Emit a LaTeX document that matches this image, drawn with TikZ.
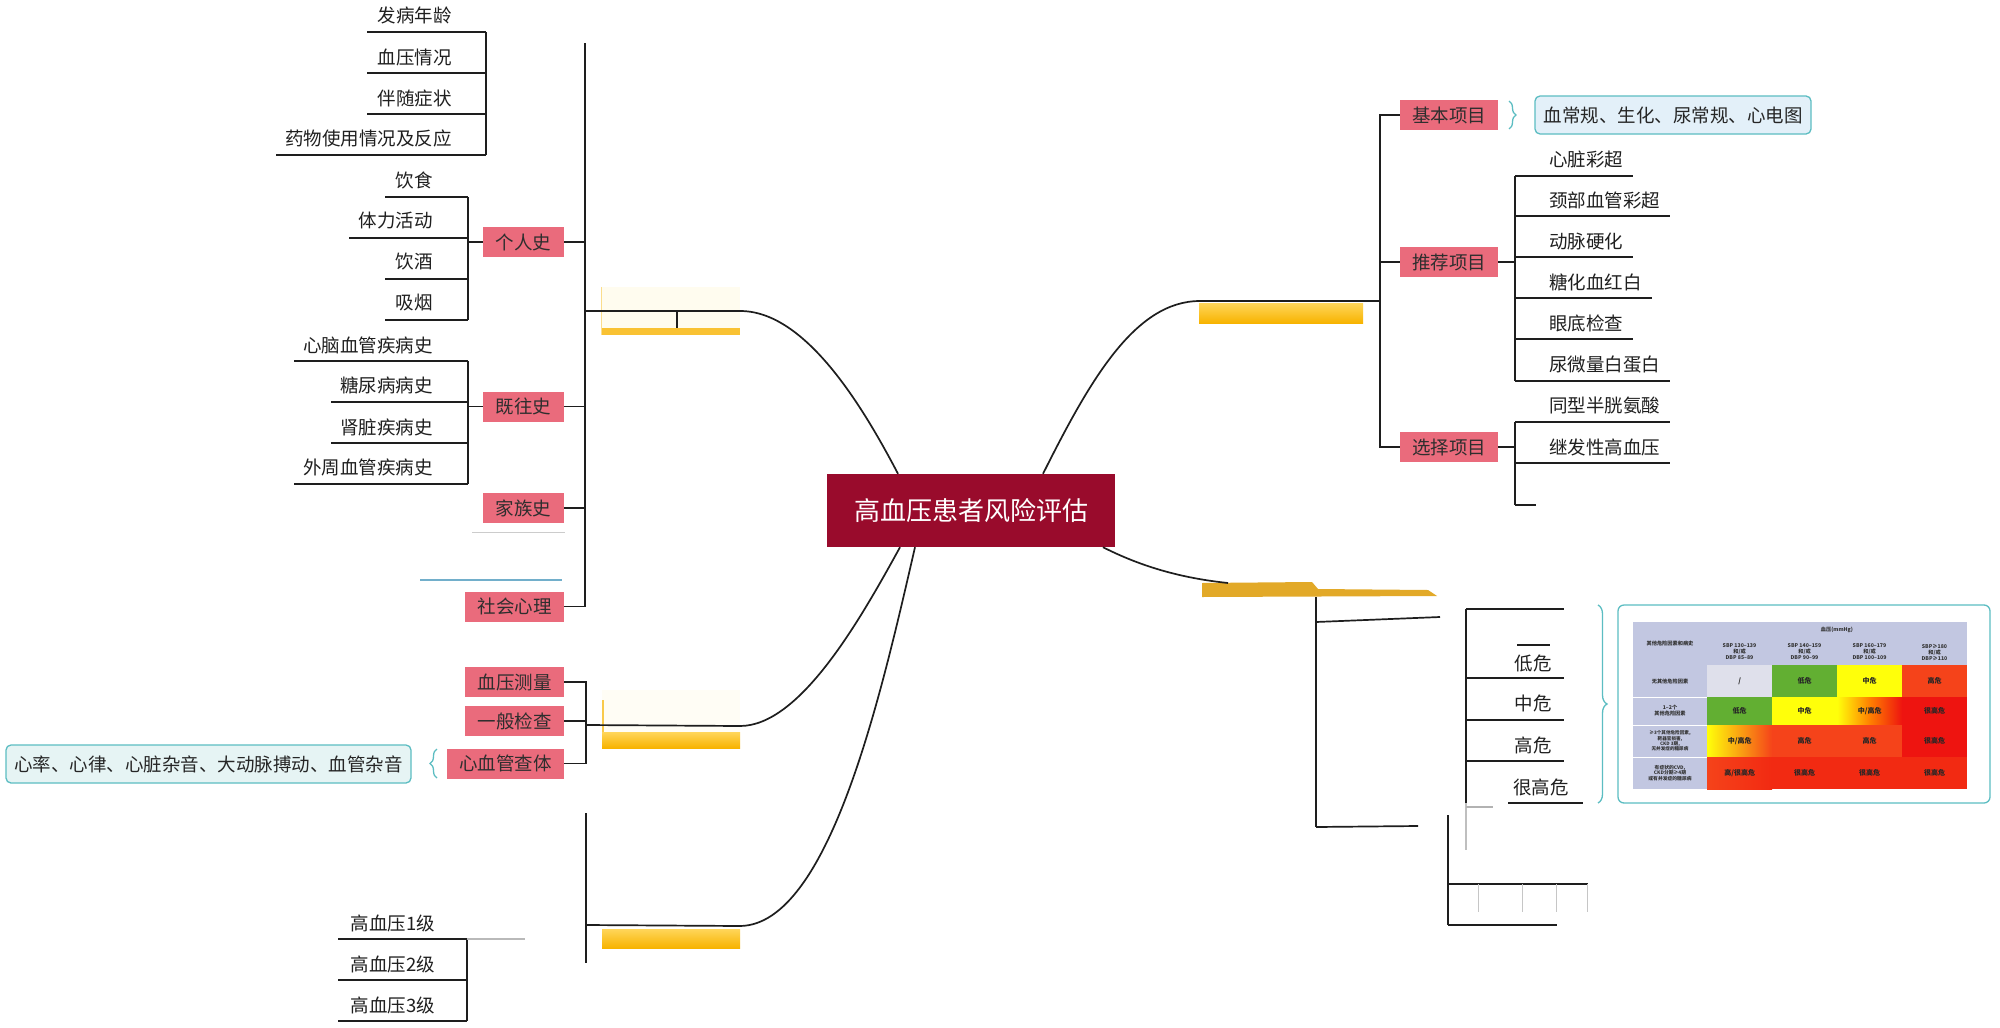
\documentclass[tikz,border=0pt]{standalone}
\usepackage{fontspec}
\setmainfont{Noto Sans CJK SC}
\usetikzlibrary{decorations.pathreplacing,calc}
\definecolor{pinkbox}{HTML}{EA6B7C}
\definecolor{rootred}{HTML}{990B2C}
\definecolor{bteal}{HTML}{5CBDC2}
\definecolor{calloutA}{HTML}{E3F0F9}
\definecolor{calloutB}{HTML}{E6F4F4}
\definecolor{lineclr}{HTML}{1E1E1E}
\definecolor{ybar}{HTML}{F7B300}
\definecolor{ybarlight}{HTML}{FFD65A}
\definecolor{faintY}{HTML}{FFFCEF}
\definecolor{goldbar}{HTML}{E2A928}
\definecolor{lav}{HTML}{C2C7E1}
\definecolor{cgray}{HTML}{DFE0EB}
\definecolor{cgreen}{HTML}{62AF32}
\definecolor{cyel}{HTML}{FFFF0A}
\definecolor{corg}{HTML}{F5431A}
\definecolor{cred}{HTML}{EE1410}
\definecolor{cred2}{HTML}{F22A12}
\definecolor{remblue}{HTML}{72AFCB}
\tikzset{
 conn/.style={draw=lineclr, line width=1.7pt},
 leaf/.style={font=\fontsize{18.5}{20}\selectfont, text=black!88, inner sep=0pt},
 lbox/.style={fill=pinkbox, font=\fontsize{18.5}{20}\selectfont, text=black!82, inner sep=0pt, minimum height=30pt},
 rootbox/.style={fill=rootred, text=white, font=\fontsize{26}{28}\selectfont, inner sep=0pt, minimum width=288pt, minimum height=73pt},
 calloutbox/.style={draw=bteal, line width=1.3pt, rounded corners=5pt, font=\fontsize{18.5}{20}\selectfont, text=black!85, inner sep=0pt, minimum height=38pt},
 bracegrp/.style={draw=bteal, line width=1.3pt, decorate, decoration={brace, amplitude=7pt}},
 tcell/.style={anchor=north west, inner sep=0pt, minimum width=65pt, font=\fontsize{7}{8}\selectfont\bfseries, text=black!85},
 hcell/.style={inner sep=0pt, align=center, font=\fontsize{5.2}{6}\selectfont\bfseries, text=black!80},
 barnode/.style={inner sep=0pt, minimum width=138pt},
 faintline/.style={draw=gray!45, line width=1pt},
}
\begin{document}
\begin{tikzpicture}[x=1pt,y=-1pt]
\useasboundingbox[fill=white] (0,0) rectangle (2000,1028);

% root
\node[rootbox] (root) at (971,510.5) {高血压患者风险评估};

% ===== left upper branch =====
\node[barnode, fill=faintY, minimum height=48pt] (barTL) at (671,311) {};
\fill[ybar!80] ([yshift=7pt]barTL.south west) rectangle (barTL.south east);
\draw[ybar!45, line width=1pt] (barTL.south west) -- (barTL.north west);
\coordinate (LT) at (585,43);
\coordinate (LB) at (585,607);
\draw[conn] (LT) -- (LB);
\draw[conn] (LT |- barTL) -- (barTL.east) .. controls (805,311) and (862,405) .. ([xshift=-73pt]root.north);
\draw[lineclr, line width=1.2pt] (677,311) -- (677,328);

% top group (parent erased)
\draw[conn] (486,32) -- (486,155);
\draw[conn] (367,32) -- (486,32);
\draw[conn] (367,73) -- (486,73);
\draw[conn] (367,114) -- (486,114);
\draw[conn] (276,155) -- (486,155);
\node[leaf, anchor=east] (h1) at (452,15) {发病年龄};
\node[leaf, anchor=east] (h2) at (452,57) {血压情况};
\node[leaf, anchor=east] (h3) at (452,98) {伴随症状};
\node[leaf, anchor=east] (h4) at (452,138) {药物使用情况及反应};

% personal history
\node[lbox, minimum width=81pt] (gr) at (523.5,242) {个人史};
\draw[conn] (gr.east) -- (gr.east -| LT);
\coordinate (grB) at (468,197);
\draw[conn] (gr.west) -- (gr.west -| grB);
\draw[conn] (468,197) -- (468,320);
\draw[conn] (385,197) -- (468,197);
\draw[conn] (349,238) -- (468,238);
\draw[conn] (385,279) -- (468,279);
\draw[conn] (385,320) -- (468,320);
\node[leaf, anchor=east] (g1) at (433,180) {饮食};
\node[leaf, anchor=east] (g2) at (433,221) {体力活动};
\node[leaf, anchor=east] (g3) at (433,262) {饮酒};
\node[leaf, anchor=east] (g4) at (433,303) {吸烟};

% past history
\node[lbox, minimum width=81pt] (jw) at (523.5,406.5) {既往史};
\draw[conn] (jw.east) -- (jw.east -| LT);
\draw[conn] (jw.west) -- (jw.west -| grB);
\draw[conn] (468,361) -- (468,484);
\draw[conn] (294,361) -- (468,361);
\draw[conn] (331,402) -- (468,402);
\draw[conn] (331,443) -- (468,443);
\draw[conn] (294,484) -- (468,484);
\node[leaf, anchor=east] (j1) at (433,345) {心脑血管疾病史};
\node[leaf, anchor=east] (j2) at (433,385) {糖尿病病史};
\node[leaf, anchor=east] (j3) at (433,427) {肾脏疾病史};
\node[leaf, anchor=east] (j4) at (433,467) {外周血管疾病史};

% family / social
\node[lbox, minimum width=81pt] (jz) at (523.5,508) {家族史};
\draw[conn] (jz.east) -- (jz.east -| LT);
\draw[gray!40, line width=1pt] (472,532) -- (565,532);
\draw[remblue, line width=2.2pt] (420,580) -- (562,580);
\node[lbox, minimum width=99pt] (sh) at (514.5,606.5) {社会心理};
\draw[conn] (sh.east) -- (sh.east -| LB);

% ===== middle-left branch =====
\node[barnode, fill=faintY!60, minimum height=58pt] (barML) at (671,719) {};
\shade[top color=ybarlight, bottom color=ybar] (602,732) rectangle (740,748);
\draw[ybar!70, line width=1.5pt] (603,700) -- (603,732);
\node[lbox, minimum width=99pt] (xy) at (514.5,682) {血压测量};
\node[lbox, minimum width=99pt] (yb) at (514.5,721) {一般检查};
\node[lbox, minimum width=117pt] (xg) at (505.5,763.5) {心血管查体};
\coordinate (MT) at (586,682);
\draw[conn] (xy.east) -- (MT) -- (MT |- xg.east) -- (xg.east);
\draw[conn] (yb.east) -- (yb.east -| MT);
\coordinate (mlStart) at (586,725);
\coordinate (mlEnd) at (740,726);
\draw[conn] (mlStart) -- (mlEnd) .. controls (800,726) and (860,620) .. ([xshift=-71pt]root.south);
\node[calloutbox, fill=calloutB, minimum width=405pt] (c2) at (208.5,764) {心率、心律、心脏杂音、大动脉搏动、血管杂音};
\draw[bracegrp] (437,778) -- (437,749);

% ===== bottom-left branch =====
\node[barnode, minimum height=19pt, top color=ybarlight, bottom color=ybar] (barBL) at (671,938.5) {};
\coordinate (BT) at (586,813);
\coordinate (BB) at (586,963);
\draw[conn] (BT) -- (BB);
\coordinate (blStart) at (586,925);
\coordinate (blEnd) at (740,926);
\draw[conn] (blStart) -- (blEnd) .. controls (830,925) and (882,690) .. ([xshift=-56pt]root.south);
\draw[conn] (467,939) -- (467,1021);
\draw[conn] (338,939) -- (467,939);
\draw[gray!55, line width=1.5pt] (467,939) -- (525,939);
\draw[conn] (338,980) -- (467,980);
\draw[conn] (338,1021) -- (467,1021);
\node[leaf, anchor=east] (k1) at (435,923) {高血压1级};
\node[leaf, anchor=east] (k2) at (435,964) {高血压2级};
\node[leaf, anchor=east] (k3) at (435,1005) {高血压3级};

% ===== right upper branch =====
\node[barnode, minimum width=164pt, minimum height=20pt, top color=ybarlight, bottom color=ybar] (barTR) at (1281,313) {};
\coordinate (RT) at (1380,114);
\coordinate (RB) at (1380,448);
\coordinate (trS) at (1200,301);
\draw[conn] ([xshift=72pt]root.north) .. controls (1090,380) and (1135,301) .. (trS) -- (trS -| RT);
\draw[conn] (RT) -- (RB);
\node[lbox, minimum width=98pt] (jb) at (1449,115) {基本项目};
\node[lbox, minimum width=98pt] (tj) at (1449,262) {推荐项目};
\node[lbox, minimum width=98pt] (xz) at (1449,447) {选择项目};
\draw[conn] (jb.west) -- (jb.west -| RT);
\draw[conn] (tj.west) -- (tj.west -| RT);
\draw[conn] (xz.west) -- (xz.west -| RT);
\node[calloutbox, fill=calloutA, minimum width=276pt] (c1) at (1673,115) {血常规、生化、尿常规、心电图};
\draw[bracegrp] (1509,101) -- (1509,129);

\coordinate (TJB) at (1515,176);
\draw[conn] (tj.east) -- (tj.east -| TJB);
\draw[conn] (1515,176) -- (1515,381);
\draw[conn] (1515,176) -- (1633,176);
\draw[conn] (1515,216) -- (1670,216);
\draw[conn] (1515,257) -- (1633,257);
\draw[conn] (1515,298) -- (1652,298);
\draw[conn] (1515,339) -- (1633,339);
\draw[conn] (1515,381) -- (1670,381);
\node[leaf, anchor=west] (t1) at (1549,159) {心脏彩超};
\node[leaf, anchor=west] (t2) at (1549,200) {颈部血管彩超};
\node[leaf, anchor=west] (t3) at (1549,241) {动脉硬化};
\node[leaf, anchor=west] (t4) at (1549,282) {糖化血红白};
\node[leaf, anchor=west] (t5) at (1549,323) {眼底检查};
\node[leaf, anchor=west] (t6) at (1549,365) {尿微量白蛋白};

\draw[conn] (xz.east) -- (xz.east -| TJB);
\draw[conn] (1515,422) -- (1515,505);
\draw[conn] (1515,422) -- (1670,422);
\draw[conn] (1515,463) -- (1670,463);
\draw[conn] (1515,505) -- (1536,505);
\node[leaf, anchor=west] (s1) at (1549,405) {同型半胱氨酸};
\node[leaf, anchor=west] (s2) at (1549,447) {继发性高血压};

% ===== right lower branch =====
\fill[goldbar] (1202,583) -- (1312,582) -- (1318,589) -- (1428,590) -- (1437,596) -- (1202,597) -- cycle;
\coordinate (brS) at (1228,583);
\draw[conn] ([xshift=132pt]root.south) .. controls (1140,566) and (1180,578) .. (brS);
\draw[conn] (1316,597) -- (1316,827);
\draw[conn] (1316,622) -- (1440,617);
\draw[conn] (1316,827) -- (1418,826);
\draw[conn] (1466,609) -- (1466,803);
\draw[gray!50, line width=1.5pt] (1466,803) -- (1466,850);
\draw[conn] (1466,609) -- (1564,609);
\draw[conn] (1517,645) -- (1550,645);
\draw[conn] (1466,678) -- (1564,678);
\draw[conn] (1466,720) -- (1564,720);
\draw[conn] (1466,761) -- (1564,761);
\draw[conn] (1508,803) -- (1583,803);
\draw[gray!60, line width=1.5pt] (1466,807) -- (1493,807);
\node[leaf, anchor=east] (r1) at (1552,663) {低危};
\node[leaf, anchor=east] (r2) at (1552,703) {中危};
\node[leaf, anchor=east] (r3) at (1552,745) {高危};
\node[leaf, anchor=east] (r4) at (1569,787) {很高危};
\draw[bracegrp, decoration={brace, amplitude=9pt}] (1598,605) -- (1598,803);

% remnant lower structure
\draw[conn] (1448,815) -- (1448,925);
\draw[conn] (1448,884) -- (1588,884);
\draw[conn] (1448,925) -- (1557,925);
\foreach \xx in {1478,1522,1556,1587} \draw[gray!45, line width=1pt] (\xx,884) -- (\xx,912);

% ===== table =====
\node[draw=bteal, line width=1.3pt, rounded corners=6pt, fill=white, minimum width=372pt, minimum height=198pt, inner sep=0pt] (tbl) at (1804,704) {};
\fill[lav] (1633,622) rectangle (1967,665);
\fill[lav] (1633,665) rectangle (1707,789);
\draw[white, line width=0.8pt] (1633,697) -- (1707,697) (1633,725) -- (1707,725) (1633,757) -- (1707,757);
\node[hcell] (th0) at (1670,643) {其他危险因素和病史};
\node[hcell] (thbp) at (1837,630) {血压(mmHg)};
\node[hcell] (th1) at (1739.5,652) {SBP 130–139\\和/或\\DBP 85–89};
\node[hcell] (th2) at (1804.5,652) {SBP 140–159\\和/或\\DBP 90–99};
\node[hcell] (th3) at (1869.5,652) {SBP 160–179\\和/或\\DBP 100–109};
\node[hcell] (th4) at (1934.5,652) {SBP≥180\\和/或\\DBP≥110};
\node[hcell] (tr1) at (1670,681) {无其他危险因素};
\node[hcell] (tr2) at (1670,711) {1–2个\\其他危险因素};
\node[hcell, font=\fontsize{4.6}{5.4}\selectfont\bfseries] (tr3) at (1670,741) {≥3个其他危险因素,\\靶器官损害,\\CKD 3期,\\无并发症的糖尿病};
\node[hcell, font=\fontsize{4.8}{5.8}\selectfont\bfseries] (tr4) at (1670,773) {有症状的CVD,\\CKD分期≥4期\\或有并发症的糖尿病};
% row 1
\node[tcell, fill=cgray, minimum height=32pt] (a11) at (1707,665) {/};
\node[tcell, fill=cgreen, minimum height=32pt] (a12) at (1772,665) {低危};
\node[tcell, fill=cyel, minimum height=32pt] (a13) at (1837,665) {中危};
\node[tcell, fill=corg, minimum height=32pt] (a14) at (1902,665) {高危};
% row 2
\node[tcell, fill=cgreen, minimum height=28pt] (a21) at (1707,697) {低危};
\node[tcell, fill=cyel, minimum height=28pt] (a22) at (1772,697) {中危};
\node[tcell, left color=cyel, right color=cred, middle color=orange, minimum height=28pt] (a23) at (1837,697) {中/高危};
\node[tcell, fill=cred, minimum height=28pt] (a24) at (1902,697) {很高危};
% row 3
\node[tcell, left color=cyel, right color=corg, minimum height=32pt] (a31) at (1707,725) {中/高危};
\node[tcell, fill=corg, minimum height=32pt] (a32) at (1772,725) {高危};
\node[tcell, fill=corg, minimum height=32pt] (a33) at (1837,725) {高危};
\node[tcell, fill=cred, minimum height=32pt] (a34) at (1902,725) {很高危};
% row 4
\node[tcell, left color=corg, right color=cred2, minimum height=32pt] (a41) at (1707,757) {高/很高危};
\node[tcell, fill=cred2, minimum height=32pt] (a42) at (1772,757) {很高危};
\node[tcell, fill=cred2, minimum height=32pt] (a43) at (1837,757) {很高危};
\node[tcell, fill=cred2, minimum height=32pt] (a44) at (1902,757) {很高危};
\end{tikzpicture}
\end{document}
